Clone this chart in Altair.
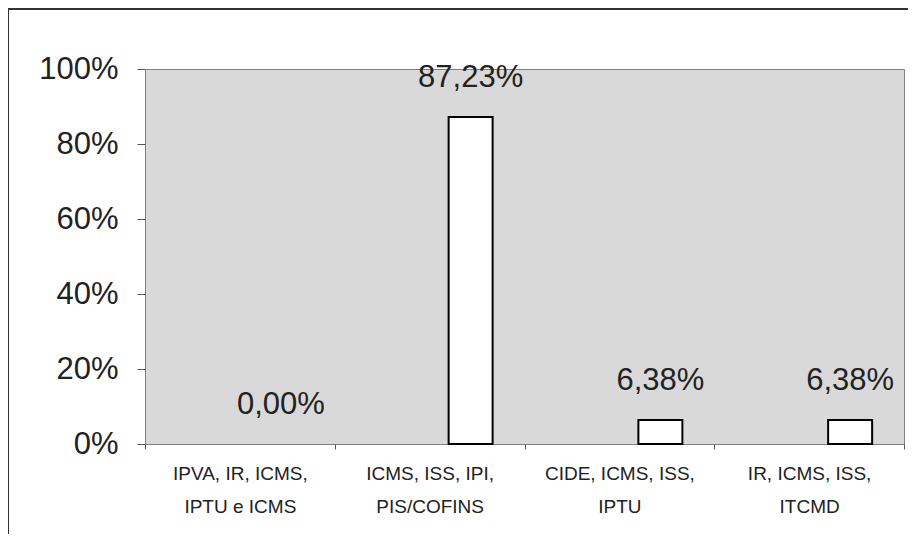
import altair as alt
import pandas as pd

categories = [
    "IPVA, IR, ICMS,\nIPTU e ICMS",
    "ICMS, ISS, IPI,\nPIS/COFINS",
    "CIDE, ICMS, ISS,\nIPTU",
    "IR, ICMS, ISS,\nITCMD",
]
values = [0.00, 87.23, 6.38, 6.38]
y_ticks = [0, 20, 40, 60, 80, 100]

df = pd.DataFrame({"cat": categories, "v": values})

FONT = "Liberation Sans"
TXT = "#222222"

x_enc = alt.X(
    "cat:N",
    sort=categories,
    scale=alt.Scale(paddingInner=0, paddingOuter=0),
    axis=alt.Axis(
        title=None,
        labelAngle=0,
        labelExpr="split(datum.label, '\\n')",
        labelFont=FONT,
        labelFontSize=19,
        labelColor=TXT,
        labelLineHeight=33,
        labelPadding=15,
        tickBand="extent",
        tickSize=5,
        tickColor="#555555",
        domain=False,
        labelBaseline="top",
    ),
)
y_enc = alt.Y(
    "v:Q",
    scale=alt.Scale(domain=[0, 100], nice=False),
    axis=alt.Axis(
        title=None,
        values=y_ticks,
        labelExpr="datum.value + '%'",
        labelFont=FONT,
        labelFontSize=31,
        labelColor=TXT,
        labelPadding=19,
        tickSize=8,
        tickColor="#555555",
        domain=False,
        grid=False,
    ),
)

base = alt.Chart(df)

bars = base.transform_filter("datum.v > 0").mark_bar(
    size=44, xOffset=41, fill="white", stroke="black", strokeWidth=2
).encode(x=x_enc, y=y_enc)

labels = base.transform_calculate(
    lab="replace(format(datum.v, '.2f'), '.', ',') + '%'"
).mark_text(
    xOffset=41, dy=-30, baseline="alphabetic", align="center",
    font=FONT, fontSize=31, color=TXT
).encode(x=x_enc, y=y_enc, text="lab:N")

frame_data = alt.Data(values=[{"a": 1}])
top_line = alt.Chart(frame_data).mark_rule(color="#333333", strokeWidth=2).encode(
    x=alt.value(-137), x2=alt.value(800), y=alt.value(-60)
)
left_line = alt.Chart(frame_data).mark_rule(color="#333333", strokeWidth=2).encode(
    x=alt.value(-137), y=alt.value(-60), y2=alt.value(500)
)

chart = alt.layer(bars, labels, top_line, left_line).properties(
    width=759,
    height=375,
    autosize=alt.AutoSizeParams(type="none"),
    padding={"left": 137, "top": 61, "right": 4, "bottom": 90},
    background="white",
).configure_view(
    fill="#d9d9d9", stroke="#808080", strokeWidth=1
)

chart.save("out.html", embed_options={"renderer": "svg", "actions": False})
